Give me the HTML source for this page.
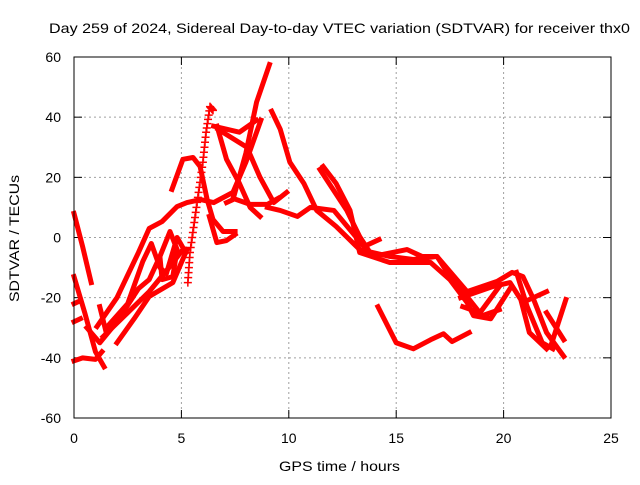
<!DOCTYPE html>
<html><head><meta charset="utf-8"><style>
body{margin:0;background:#fff}
svg{font-family:"Liberation Sans",sans-serif}
</style></head><body>
<svg id="chart" width="640" height="480" viewBox="0 0 640 480" xmlns="http://www.w3.org/2000/svg">
<rect width="640" height="480" fill="#fff"/>
<text x="49" y="33" font-size="14" textLength="581" lengthAdjust="spacingAndGlyphs">Day 259 of 2024, Sidereal Day-to-day VTEC variation (SDTVAR) for receiver thx0</text>
<text transform="translate(19,302) rotate(-90)" font-size="14" textLength="127" lengthAdjust="spacingAndGlyphs">SDTVAR / TECUs</text>
<text x="279" y="471" font-size="14" textLength="121" lengthAdjust="spacingAndGlyphs">GPS time / hours</text>
<g id="grid"></g><g id="ticks"></g><g id="series"></g>
<rect x="74" y="57" width="537" height="361" fill="none" stroke="#000" stroke-width="1"/>
</svg>
<script>
const xTicks=[0,5,10,15,20,25];
const yTicks=[-60,-40,-20,0,20,40,60];
const tracks=[
[[0,8],[0.4,-3],[0.8,-15]],
[[0,-13],[0.5,-25],[1,-38],[1.4,-43]],
[[0,-41],[0.4,-40],[1,-40.5],[1.3,-38]],
[[0,-22],[0.3,-21]],
[[0,-28],[0.3,-27]],
[[1.07,-29.6],[2,-20],[3,-5],[3.5,3],[4.1,5.3],[4.8,10.3],[5.26,11.6],[5.9,12.6],[6.5,11.6],[7.4,15],[8,25],[8.7,39]],
[[1.2,-23],[1.5,-31.6],[2,-28]],
[[1.35,-33],[2.5,-25],[3.5,-18],[4.47,-9.6],[5.07,-4]],
[[2.0,-35],[2.8,-27],[3.5,-19.6],[4.6,-15],[5.26,-4]],
[[0.6,-30],[1.2,-35],[2,-28],[3,-17],[3.5,-14],[4,-6.3],[4.1,-14],[4.6,-13],[4.8,-4],[4.47,2],[4,-6.3]],
[[1.5,-30],[2.5,-22],[3.2,-8],[3.6,-2],[4,-10],[4.3,-12],[4.8,0],[5.2,-5]],
[[4.56,16],[5.07,26],[5.54,26.6],[5.87,23.6],[6.2,12.6],[6.47,6],[6.94,2],[7.5,2]],
[[6.3,7],[6.65,-1.7],[7.1,-1],[7.5,1]],
[[7.1,11.6],[7.4,12.6],[8,28],[8.5,45],[9.1,57.5]],
[[6.5,37],[7.1,36],[7.7,35],[8.5,39]],
[[6.66,37],[7.1,26],[7.7,18],[8.2,10],[8.66,7]],
[[6.7,36],[8.05,30],[8.66,20],[9.3,11.6],[9.9,15]],
[[7.4,13],[8.2,11],[9,11],[9.5,13]],
[[9.2,42],[9.6,36],[10.05,25],[10.7,18],[11.3,9],[12.2,3.7],[13.3,-4],[14.7,-6.3],[15.8,-7.3],[16.9,-6.3],[17.6,-14],[18.4,-20.6],[19.0,-26],[19.8,-24]],
[[9.0,10],[9.6,9],[10.4,7],[11,10],[12.1,9],[13.5,-3],[14.2,-0.7]],
[[11.45,22.6],[12.7,9],[13.3,0.3],[13.9,-6.3],[15.5,-4],[16.2,-6.3],[16.9,-6.3],[18.3,-18]],
[[11.6,23.6],[12.2,18],[12.85,9],[13.3,-5],[14.7,-8.3],[16.6,-8.3],[17.5,-14],[18.3,-21.6],[18.6,-26],[19.4,-27],[20.3,-17]],
[[14.15,-23],[15.0,-35],[15.8,-37],[16.6,-34],[17.2,-32],[17.6,-34.6],[18.4,-31.6]],
[[18.3,-18],[19.7,-14.6],[20.4,-11.6],[20.9,-13],[21.4,-20.6],[22.0,-31.6],[22.8,-39.5]],
[[18.0,-20],[19.5,-16.3],[20.3,-15],[20.8,-20.6],[21.2,-31.6],[22.0,-37]],
[[20.6,-11.6],[21.1,-23],[21.8,-35],[22.3,-37]],
[[21.2,-20.6],[22,-18]],
[[22,-25],[22.8,-34]],
[[22.9,-20.6],[22.2,-36]],
[[18.1,-23],[18.9,-25],[19.8,-16.3]]
];
const crossTrack=[[5.3,-15],[5.4,-5],[5.6,5],[5.8,15],[6.0,25],[6.15,35],[6.33,43.5],[6.5,42]];
const NS="http://www.w3.org/2000/svg";
const X=h=>74+h*537/25, Y=v=>237.5-v*361/120;
const grid=document.getElementById('grid'),ticks=document.getElementById('ticks'),ser=document.getElementById('series');
function mk(tag,at,par){const e=document.createElementNS(NS,tag);for(const k in at)e.setAttribute(k,at[k]);par.appendChild(e);return e;}
xTicks.forEach(t=>{const x=X(t);
 if(t>0&&t<25){const g=mk('line',{x1:x,x2:x,y1:57,y2:418,stroke:'#a0a0a0','stroke-dasharray':'2,3'},grid);
 
 }
 mk('line',{x1:x,x2:x,y1:418,y2:410,stroke:'#000'},ticks);mk('line',{x1:x,x2:x,y1:57,y2:65,stroke:'#000'},ticks);
 const l=mk('text',{x:x,y:443,'font-size':14,'text-anchor':'middle'},ticks);l.textContent=t;
 
 });
yTicks.forEach(t=>{const y=Y(t);
 if(t>-60&&t<60){const g=mk('line',{x1:74,x2:611,y1:y,y2:y,stroke:'#a0a0a0','stroke-dasharray':'2,3'},grid);
 
 }
 mk('line',{x1:74,x2:82,y1:y,y2:y,stroke:'#000'},ticks);mk('line',{x1:611,x2:603,y1:y,y2:y,stroke:'#000'},ticks);
 const l=mk('text',{x:61,y:y+5,'font-size':14,'text-anchor':'end'},ticks);l.textContent=t;
 
 });
tracks.forEach(tr=>{const p=mk('polyline',{points:tr.map(d=>X(d[0])+','+Y(d[1])).join(' '),fill:'none',stroke:'#f00','stroke-width':5,'stroke-linejoin':'round','stroke-linecap':'square'},ser);
 
 });
for(let i=0;i<crossTrack.length-1;i++){const a=crossTrack[i],b=crossTrack[i+1];
 for(let k=0;k<6;k++){const h=a[0]+(b[0]-a[0])*k/6,v=a[1]+(b[1]-a[1])*k/6,x=X(h),y=Y(v);
  const c=mk('path',{d:`M${x-4},${y}H${x+4}M${x},${y-4}V${y+4}`,stroke:'#f00','stroke-width':1.5},ser);
  
  }}
</script>
</body></html>
